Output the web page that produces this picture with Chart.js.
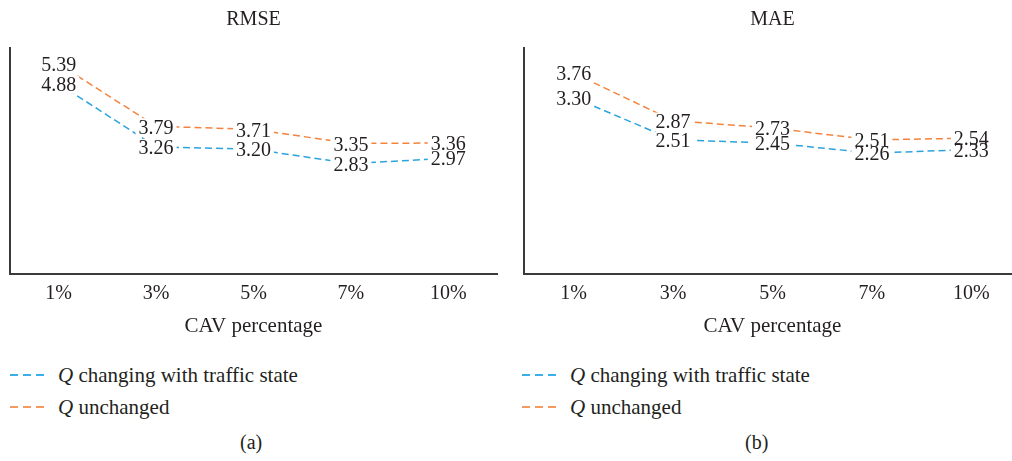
<!DOCTYPE html>
<html>
<head>
<meta charset="utf-8">
<script src="https://cdn.jsdelivr.net/npm/chart.js@4.4.1/dist/chart.umd.min.js"></script>
<style>
  html, body { margin: 0; padding: 0; background: #fff; }
  body { width: 1012px; height: 461px; position: relative; overflow: hidden; font-family: "Liberation Serif", serif; color: #231f20; }
  .panel { position: absolute; top: 0; }
  .legend { position: absolute; font-size: 21px; line-height: 32px; }
  .legend div { white-space: nowrap; }
  .legend svg { vertical-align: middle; margin-right: 12px; position: relative; top: -2px; }
  .caption { position: absolute; font-size: 20px; top: 431px; }
</style>
</head>
<body>
<div class="panel" style="left:0;width:505px;height:340px"><canvas id="rmseChart"></canvas></div>
<div class="panel" style="left:505px;width:520px;height:340px"><canvas id="maeChart"></canvas></div>

<div class="legend" style="left:10px;top:359px">
  <div><svg width="36" height="4"><line x1="0" y1="2" x2="36" y2="2" stroke="#3bb0e6" stroke-width="2" stroke-dasharray="8,5"/></svg><i>Q</i> changing with traffic state</div>
  <div><svg width="36" height="4"><line x1="0" y1="2" x2="36" y2="2" stroke="#f59a5e" stroke-width="2" stroke-dasharray="8,5"/></svg><i>Q</i> unchanged</div>
</div>
<div class="legend" style="left:522px;top:359px">
  <div><svg width="36" height="4"><line x1="0" y1="2" x2="36" y2="2" stroke="#3bb0e6" stroke-width="2" stroke-dasharray="8,5"/></svg><i>Q</i> changing with traffic state</div>
  <div><svg width="36" height="4"><line x1="0" y1="2" x2="36" y2="2" stroke="#f59a5e" stroke-width="2" stroke-dasharray="8,5"/></svg><i>Q</i> unchanged</div>
</div>
<div class="caption" style="left:240px">(a)</div>
<div class="caption" style="left:745px">(b)</div>

<script>
// Kategorier og måleværdier
const cavLabels = ['1%', '3%', '5%', '7%', '10%'];
const rmseChanging = [4.88, 3.26, 3.20, 2.83, 2.97];
const rmseUnchanged = [5.39, 3.79, 3.71, 3.35, 3.36];
const maeChanging = [3.30, 2.51, 2.45, 2.26, 2.33];
const maeUnchanged = [3.76, 2.87, 2.73, 2.51, 2.54];

const blue = '#2ba4dd';
const orange = '#f4833e';
const serif = '"Liberation Serif", "Times New Roman", serif';
const textColor = '#231f20';

// Værdietiketter: først hvide felter over linjerne, derefter teksten
const valueLabels = {
    id: 'valueLabels',
    afterDatasetsDraw(chart) {
        const ctx = chart.ctx;
        const items = [];
        ctx.save();
        ctx.font = '20px ' + serif;
        ctx.textAlign = 'center';
        ctx.textBaseline = 'middle';
        chart.data.datasets.forEach((ds, i) => {
            chart.getDatasetMeta(i).data.forEach((pt, j) => {
                const txt = ds.data[j].toFixed(2);
                items.push({ txt: txt, x: pt.x, y: pt.y + 1, w: ctx.measureText(txt).width });
            });
        });
        ctx.fillStyle = '#fff';
        items.forEach(it => ctx.fillRect(it.x - it.w / 2 - 3, it.y - 9, it.w + 6, 18));
        ctx.fillStyle = textColor;
        items.forEach(it => ctx.fillText(it.txt, it.x, it.y + 1));
        ctx.restore();
    }
};

function makeChart(id, title, changing, unchanged, yMax, padLeft, padRight) {
    const ctx = document.getElementById(id).getContext('2d');
    return new Chart(ctx, {
        type: 'line',
        data: {
            labels: cavLabels,
            datasets: [
                {
                    label: 'Q changing with traffic state',
                    data: changing,
                    borderColor: blue,
                    borderWidth: 1.5,
                    borderDash: [7, 4],
                    pointRadius: 0,
                    tension: 0,
                    fill: false
                },
                {
                    label: 'Q unchanged',
                    data: unchanged,
                    borderColor: orange,
                    borderWidth: 1.5,
                    borderDash: [7, 4],
                    pointRadius: 0,
                    tension: 0,
                    fill: false
                }
            ]
        },
        options: {
            responsive: true,
            maintainAspectRatio: false,
            animation: false,
            layout: { padding: { left: padLeft, right: padRight, top: 0, bottom: 0 } },
            plugins: {
                legend: { display: false },
                tooltip: { enabled: false },
                title: {
                    display: true,
                    text: title,
                    color: textColor,
                    font: { family: serif, size: 20, weight: 'normal' },
                    padding: { top: 8, bottom: 16 }
                }
            },
            scales: {
                x: {
                    offset: true,
                    grid: { display: false, drawTicks: false },
                    border: { display: true, color: '#3a3a3a', width: 2 },
                    ticks: {
                        color: textColor,
                        font: { family: serif, size: 20 },
                        padding: 8,
                        maxRotation: 0
                    },
                    title: {
                        display: true,
                        text: 'CAV percentage',
                        color: textColor,
                        font: { family: serif, size: 21 },
                        padding: { top: 0, bottom: 1 }
                    }
                },
                y: {
                    min: 0,
                    max: yMax,
                    grid: { display: false, drawTicks: false },
                    border: { display: true, color: '#3a3a3a', width: 2 },
                    ticks: { display: false }
                }
            }
        },
        plugins: [valueLabels]
    });
}

makeChart('rmseChart', 'RMSE', rmseChanging, rmseUnchanged, 5.8, 10, 8);
makeChart('maeChart', 'MAE', maeChanging, maeUnchanged, 4.23, 19, 4);
</script>
</body>
</html>
